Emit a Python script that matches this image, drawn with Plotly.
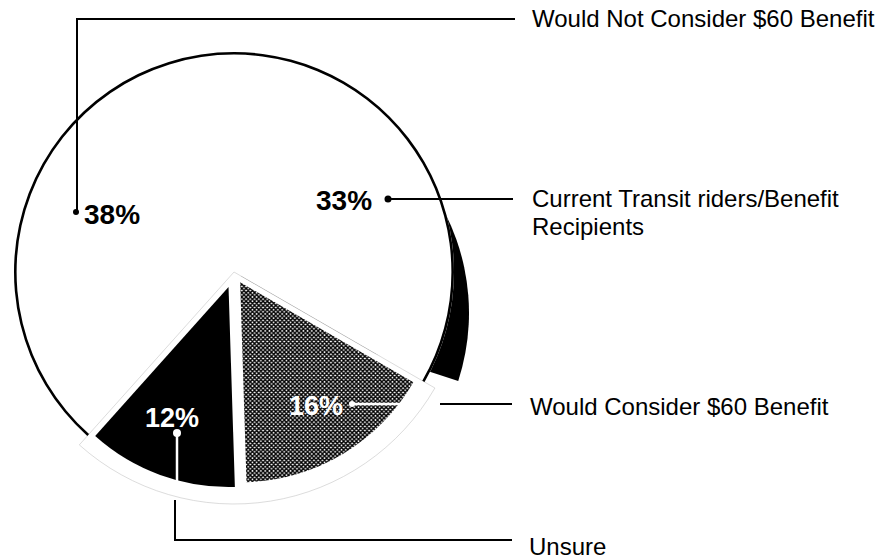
import plotly.graph_objects as go

# ---- data ----
categories = ["Current Transit riders/Benefit Recipients",
              "Would Consider $60 Benefit",
              "Unsure",
              "Would Not Consider $60 Benefit"]
shares = [33, 16, 12, 38]
pct_labels = ["33%", "16%", "12%", "38%"]
pulls = [0, 0.06, 0.08, 0]

W, H = 886, 560
CX, CY, R = 234, 272, 220
R_SMALL = 200
FONT = "Liberation Sans, Arial, Helvetica, sans-serif"
CLEAR = "rgba(0,0,0,0)"


def dom(cx, cy, r, pull=0.0):
    half = r * (1 + pull)
    return dict(x=[(cx - half) / W, (cx + half) / W],
                y=[(H - cy - half) / H, (H - cy + half) / H])


def px(x):
    return x / W


def py(y):
    return 1 - y / H


common = dict(labels=categories, sort=False, direction="clockwise",
              textinfo="none", hoverinfo="skip", showlegend=False)

fig = go.Figure()

# drop shadow (3-D side) of the 33% slice
fig.add_trace(go.Pie(values=shares, domain=dom(CX + 15, CY + 41, R), rotation=-12,
                     marker=dict(colors=["black", CLEAR, CLEAR, CLEAR],
                                 line=dict(width=0)), **common))
# white fill of the disc
fig.add_trace(go.Pie(values=shares, domain=dom(CX, CY, R), rotation=0,
                     marker=dict(colors=["white", "white", "white", "white"],
                                 line=dict(width=0)), **common))
# faint ghost outline of exploded pair
ghost_vals = [shares[0], shares[1] + shares[2], shares[3]]
fig.add_trace(go.Pie(values=ghost_vals, labels=["a", "b", "c"], sort=False,
                     direction="clockwise", rotation=0, textinfo="none",
                     hoverinfo="skip", showlegend=False,
                     domain=dom(CX, CY, 232),
                     marker=dict(colors=[CLEAR, CLEAR, CLEAR],
                                 line=dict(color="#c4c4c4", width=[0, 0.6, 0]))))
# black outline arc of unexploded slices
fig.add_trace(go.Pie(values=shares, domain=dom(CX, CY, R), hole=1 - 2.6 / R,
                     rotation=0,
                     marker=dict(colors=["black", CLEAR, CLEAR, "black"],
                                 line=dict(width=0)), **common))
# exploded slices
fig.add_trace(go.Pie(values=shares, domain=dom(CX, CY, R_SMALL, max(pulls)),
                     pull=pulls, rotation=0,
                     marker=dict(colors=[CLEAR, "white", "black", CLEAR],
                                 line=dict(width=0),
                                 pattern=dict(shape=["", "x", "", ""],
                                              fgcolor="black", size=3,
                                              solidity=0.7)),
                     **common))

shapes = []


def line(x0, y0, x1, y1, color="black", width=2):
    shapes.append(dict(type="line", xref="paper", yref="paper",
                       x0=px(x0), y0=py(y0), x1=px(x1), y1=py(y1),
                       line=dict(color=color, width=width)))


def dot(x, y, r, color="black"):
    shapes.append(dict(type="circle", xref="paper", yref="paper",
                       x0=px(x - r), x1=px(x + r), y0=py(y + r), y1=py(y - r),
                       fillcolor=color, line=dict(width=0)))


# leader: 38%
line(77, 212, 77, 19)
line(76, 19, 515, 19)
dot(76, 212, 3)
# leader: 33%
line(388, 199, 513, 199)
dot(388, 199, 3.5)
# leader: 16%
line(352, 404, 410, 404, color="white", width=2.5)
dot(352, 404, 3, "white")
line(440, 404, 512, 404)
# leader: 12%
dot(177, 433, 4, "white")
line(177, 433, 177, 482, color="white", width=2.5)
line(175, 500, 175, 541)
line(174, 540, 512, 540)

annotations = []


def text(x, y, s, size, color="black", bold=False, xanchor="left"):
    annotations.append(dict(x=px(x), y=py(y), xref="paper", yref="paper",
                            text=f"<b>{s}</b>" if bold else s, showarrow=False,
                            xanchor=xanchor, yanchor="middle",
                            font=dict(family=FONT, size=size, color=color)))


# percentage labels
text(344, 200, pct_labels[0], 28, bold=True, xanchor="center")
text(316, 406, pct_labels[1], 27, color="white", bold=True, xanchor="center")
text(172, 418, pct_labels[2], 27, color="white", bold=True, xanchor="center")
text(112, 214, pct_labels[3], 28, bold=True, xanchor="center")

# category labels
text(530, 19, categories[3], 24)
text(530, 198, "Current Transit riders/Benefit", 24)
text(530, 226, "Recipients", 24)
text(528, 406, categories[1], 24)
text(527, 546, categories[2], 24)

fig.update_layout(width=W, height=H, autosize=False,
                  margin=dict(l=0, r=0, t=0, b=0),
                  paper_bgcolor="white", plot_bgcolor="white",
                  shapes=shapes, annotations=annotations)

fig.write_html("out.html", config={"displayModeBar": False},
               post_script="document.body.style.margin='0';"
                           "document.body.style.overflow='hidden';")
